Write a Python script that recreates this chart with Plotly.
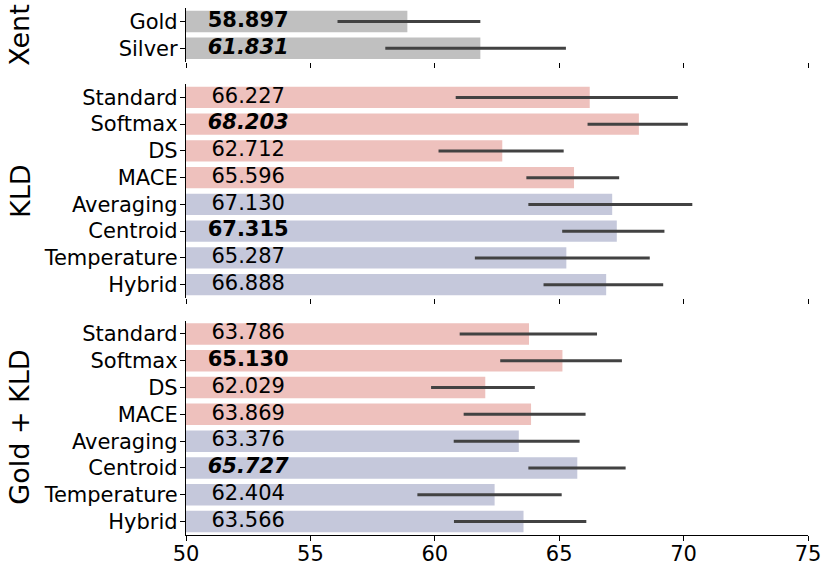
import plotly.graph_objects as go

# ---------------- data ----------------
xent_labels = ["Gold", "Silver"]
xent_vals = [58.897, 61.831]
xent_lo = [56.09, 58.01]
xent_hi = [61.83, 65.27]
xent_style = ["b", "bi"]
xent_family = ["gold", "gold"]

methods = ["Standard", "Softmax", "DS", "MACE", "Averaging", "Centroid", "Temperature", "Hybrid"]
method_family = ["base", "base", "base", "base", "ens", "ens", "ens", "ens"]

kld_vals = [66.227, 68.203, 62.712, 65.596, 67.130, 67.315, 65.287, 66.888]
kld_lo = [60.84, 66.14, 60.15, 63.68, 63.76, 65.12, 61.61, 64.37]
kld_hi = [69.77, 70.17, 65.18, 67.41, 70.35, 69.23, 68.64, 69.18]
kld_style = ["", "bi", "", "", "", "b", "", ""]

gk_vals = [63.786, 65.130, 62.029, 63.869, 63.376, 65.727, 62.404, 63.566]
gk_lo = [61.00, 62.63, 59.85, 61.16, 60.76, 63.76, 59.30, 60.77]
gk_hi = [66.52, 67.52, 64.02, 66.06, 65.82, 67.67, 65.10, 66.09]
gk_style = ["", "b", "", "", "", "bi", "", ""]

panel_titles = ["Xent", "KLD", "Gold + KLD"]
x_ticks = [50, 55, 60, 65, 70, 75]
label_x = 52.5

# ---------------- styles ----------------
FONT = "DejaVu Sans"
family_colors = {"gold": "#c0c0c0", "base": "#eec1bd", "ens": "#c5c8db"}
err_color = "#424242"

W, H = 830, 573
ML, MR, MT, MB = 186, 22, 0, 38
plot_h = H - MT - MB


def frac(px):
    return 1 - (px - MT) / plot_h


domains = [(frac(61.7), frac(8)), (frac(298), frac(84)), (frac(535), frac(320.5))]


def styled(v, s):
    t = f"{v:.3f}"
    if "i" in s:
        t = f"<i>{t}</i>"
    if "b" in s:
        t = f"<b>{t}</b>"
    return t


panels = [
    (xent_labels, xent_vals, xent_lo, xent_hi, xent_style, xent_family),
    (methods, kld_vals, kld_lo, kld_hi, kld_style, method_family),
    (methods, gk_vals, gk_lo, gk_hi, gk_style, method_family),
]

fig = go.Figure()
layout = {}
for i, (labels, vals, lo, hi, style, fam) in enumerate(panels):
    sfx = "" if i == 0 else str(i + 1)
    xa, ya = "x" + sfx, "y" + sfx
    fig.add_trace(go.Bar(
        y=labels, x=vals, orientation="h", width=0.8,
        marker=dict(color=[family_colors[f] for f in fam], line=dict(width=0)),
        error_x=dict(type="data", symmetric=False,
                     array=[h - v for h, v in zip(hi, vals)],
                     arrayminus=[v - l for v, l in zip(vals, lo)],
                     width=0, thickness=3, color=err_color),
        xaxis=xa, yaxis=ya, hoverinfo="skip", showlegend=False,
    ))
    fig.add_trace(go.Scatter(
        x=[label_x] * len(labels), y=labels, mode="text",
        text=[styled(v, s) for v, s in zip(vals, style)],
        textposition="middle center",
        textfont=dict(family=FONT, size=21, color="black"),
        xaxis=xa, yaxis=ya, hoverinfo="skip", showlegend=False,
    ))
    n = len(labels)
    last = i == 2
    layout["xaxis" + sfx] = dict(
        domain=[0, 1], anchor=ya, range=[50, 75], tickvals=x_ticks,
        ticktext=[str(t) for t in x_ticks],
        showticklabels=last, showline=last, linecolor="black", linewidth=1.25,
        ticks="outside", ticklen=5, tickwidth=1.1, tickcolor="black",
        showgrid=False, zeroline=False, ticklabelstandoff=-5,
        tickfont=dict(family=FONT, size=21, color="black"),
    )
    layout["yaxis" + sfx] = dict(
        domain=list(domains[i]), anchor=xa, type="category",
        categoryorder="array", categoryarray=labels,
        range=[n - 0.5, -0.5], showline=True, linecolor="black", linewidth=1.25,
        ticks="outside", ticklen=5, tickwidth=1.1, tickcolor="black",
        showgrid=False, zeroline=False, ticklabelstandoff=-2,
        tickfont=dict(family=FONT, size=21, color="black"),
    )

annotations = []
for i, t in enumerate(panel_titles):
    d0, d1 = domains[i]
    annotations.append(dict(
        text=t, xref="paper", yref="paper", x=(20 - ML) / (W - ML - MR),
        y=(d0 + d1) / 2, xanchor="center", yanchor="middle", textangle=-90,
        showarrow=False, font=dict(family=FONT, size=27, color="black"),
    ))

fig.update_layout(
    width=W, height=H, margin=dict(l=ML, r=MR, t=MT, b=MB),
    paper_bgcolor="white", plot_bgcolor="white", bargap=0.2,
    annotations=annotations, font=dict(family=FONT, color="black"),
    **layout,
)

fig.write_html(
    "out.html",
    config={"displayModeBar": False},
    post_script="document.body.style.margin='0';document.body.style.overflow='hidden';",
)
